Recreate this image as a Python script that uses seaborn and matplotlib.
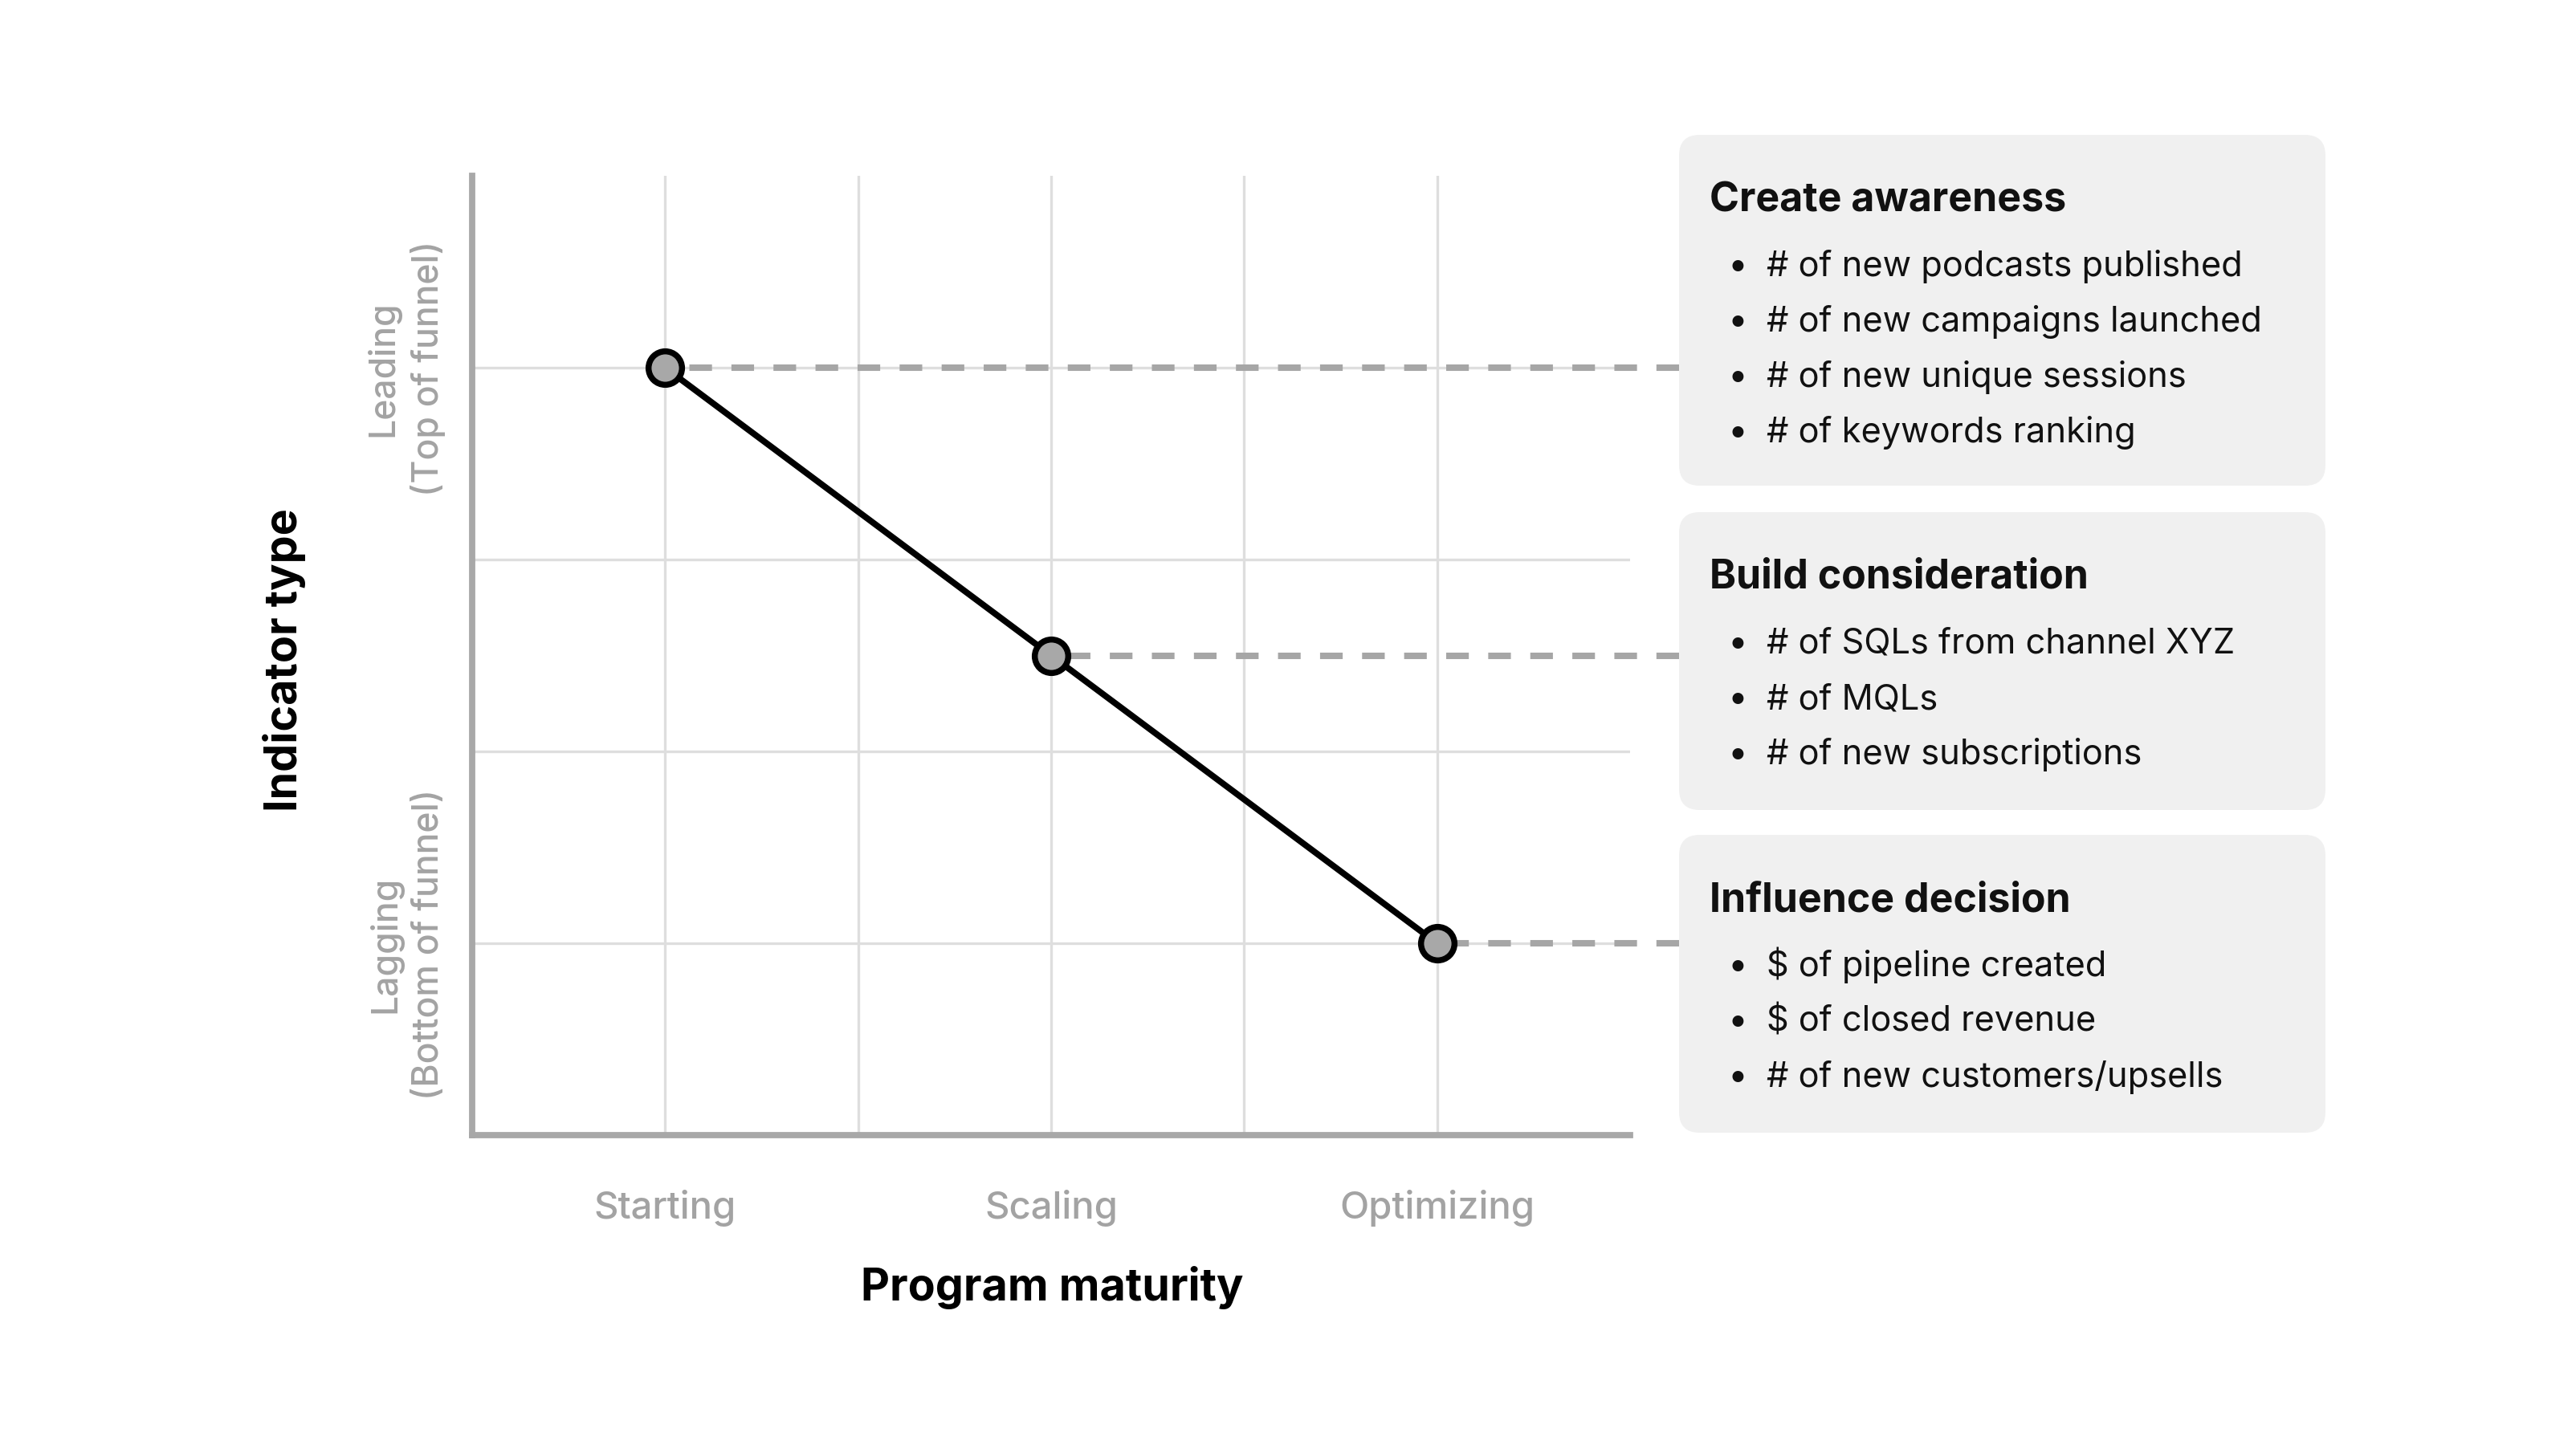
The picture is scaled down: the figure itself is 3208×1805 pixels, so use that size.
import matplotlib
matplotlib.use("Agg")
import matplotlib.pyplot as plt
import seaborn as sns
import pandas as pd
from matplotlib.patches import FancyBboxPatch

# ---------------- data ----------------
stages = ["Starting", "Scaling", "Optimizing"]
stage_x = [1, 3, 5]
indicator_level = [4, 2.5, 1]
ytick_pos = [1, 4]
ytick_labels = ["Lagging\n(Bottom of funnel)", "Leading\n(Top of funnel)"]

box_titles = ["Create awareness", "Build consideration", "Influence decision"]
box1_items = ["# of new podcasts published", "# of new campaigns launched",
              "# of new unique sessions", "# of keywords ranking"]
box2_items = ["# of SQLs from channel XYZ", "# of MQLs", "# of new subscriptions"]
box3_items = ["$ of pipeline created", "$ of closed revenue",
              "# of new customers/upsells"]

x_label = "Program maturity"
y_label = "Indicator type"

# ---------------- style ----------------
sns.set_theme(style="white")
plt.rcParams["font.family"] = ["Inter", "DejaVu Sans"]

W, H = 3208, 1806
DPI = 200
fig = plt.figure(figsize=(W / DPI, H / DPI), dpi=DPI)

def fx(px):
    return px / W

def fy(py):
    return 1 - py / H

# axes placement (pixels)
ax_l, ax_r, ax_t, ax_b = 588, 2030, 220, 1415
ax = fig.add_axes([fx(ax_l), fy(ax_b), fx(ax_r) - fx(ax_l), (ax_b - ax_t) / H])

df = pd.DataFrame({"stage_x": stage_x, "level": indicator_level})

GRAY = "#a8a8a8"
# dashed connectors to boxes (drawn from the box edge back to the point)
box_left_px = 2091
x_end = (box_left_px - ax_l) / (ax_r - ax_l) * 6
for xv, yv in zip(stage_x, indicator_level):
    ax.plot([x_end, xv], [yv, yv], color="#a6a6a6", lw=2.9,
            linestyle=(0, (3.5, 3.0)), clip_on=False, zorder=2,
            solid_capstyle="butt", dash_capstyle="butt")

sns.lineplot(data=df, x="stage_x", y="level", ax=ax, color="black", lw=2.8,
             marker="o", markersize=15, markerfacecolor=GRAY,
             markeredgecolor="black", markeredgewidth=2.7, zorder=4,
             clip_on=False)

ax.set_xlim(0, 6)
ax.set_ylim(0, 5)
ax.set_xticks(stage_x)
ax.set_xticklabels(stages)
ax.set_xticks([2, 4], minor=True)
ax.set_yticks(ytick_pos)
ax.set_yticklabels(ytick_labels, rotation=90, va="center", ha="right",
                   multialignment="center", linespacing=1.35)
ax.set_yticks([2, 3], minor=True)
ax.grid(True, which="both", color="#dedede", lw=1.2, zorder=0)
ax.set_axisbelow(True)
ax.tick_params(axis="both", which="both", length=0)
ax.tick_params(axis="x", pad=24, labelsize=17, labelcolor="#a3a3a3")
ax.tick_params(axis="y", pad=12, labelsize=16, labelcolor="#a3a3a3")
for lab in ax.get_xticklabels() + ax.get_yticklabels():
    lab.set_fontweight("medium")

for s in ["top", "right"]:
    ax.spines[s].set_visible(False)
for s in ["left", "bottom"]:
    ax.spines[s].set_color(GRAY)
    ax.spines[s].set_linewidth(2.8)
ax.set_xlabel("")
ax.set_ylabel("")

# axis titles
fig.text(fx(1310), fy(1620), x_label, ha="center", va="baseline",
         fontsize=20, fontweight="bold", color="black")
fig.text(fx(381), fy(822), y_label, ha="right", va="center", rotation=90,
         fontsize=20, fontweight="bold", color="black")

# boxes
boxes = [(169, 606, box1_items), (639, 1010, box2_items), (1041, 1412, box3_items)]
bl, br = 2091, 2896
for (top, bot, items), title in zip(boxes, box_titles):
    patch = FancyBboxPatch((fx(bl), fy(bot)), fx(br) - fx(bl), (bot - top) / H,
                           boxstyle="round,pad=0,rounding_size=0.008",
                           transform=fig.transFigure, facecolor="#f0f0f0",
                           edgecolor="none", zorder=1,
                           mutation_aspect=W / H)
    fig.patches.append(patch)
    fig.text(fx(2129), fy(top + 94), title, ha="left", va="baseline",
             fontsize=18, fontweight="bold", color="#111111")
    for i, item in enumerate(items):
        yb = top + 175 + i * 69
        fig.text(fx(2164), fy(yb), "\u2022", ha="center", va="baseline",
                 fontsize=16, color="#111111")
        fig.text(fx(2200), fy(yb), item, ha="left", va="baseline",
                 fontsize=15.6, color="#111111")

fig.savefig("out.png", dpi=DPI, facecolor="white")
